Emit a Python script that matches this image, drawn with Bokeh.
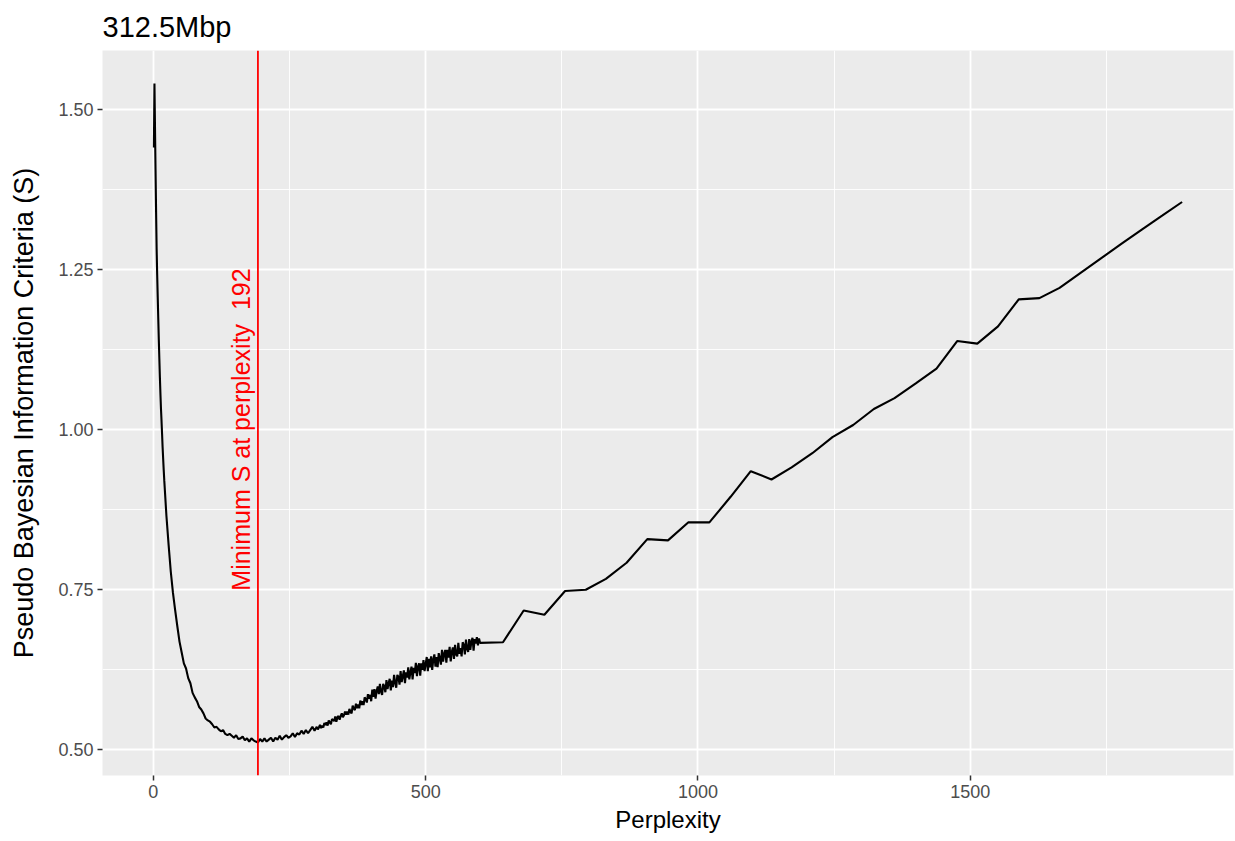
import math
from bokeh.plotting import figure
from bokeh.models import FixedTicker, NumeralTickFormatter, Span, Label, Range1d
from bokeh.embed import file_html
from bokeh.resources import INLINE

title_text = "312.5Mbp"
x_label = "Perplexity"
y_label = "Pseudo Bayesian Information Criteria (S)"
min_perplexity = 192
annot_text = "Minimum S at perplexity \u00a0192"

x_ticks = [0, 500, 1000, 1500]
x_minor = [250, 750, 1250, 1750]
y_ticks = [0.5, 0.75, 1.0, 1.25, 1.5]
y_minor = [0.625, 0.875, 1.125, 1.375]

# early steep part (perplexity 1..19)
perp_head = [1, 2, 3, 4, 5, 6, 7, 8, 9, 10, 11, 12, 13, 14, 15, 16, 17, 18, 19]
s_head = [1.440, 1.540, 1.470, 1.405, 1.340, 1.282, 1.242, 1.207, 1.173, 1.140,
          1.110, 1.081, 1.055, 1.032, 1.013, 0.993, 0.972, 0.954, 0.937]

# valley (perplexity 20..296, read every 4)
perp_mid = list(range(20, 300, 4))
s_mid = [
    0.921, 0.865, 0.820, 0.778, 0.745, 0.718, 0.693, 0.669, 0.652, 0.635,
    0.627, 0.612, 0.604, 0.589, 0.582, 0.576, 0.567, 0.563, 0.557, 0.549,
    0.546, 0.544, 0.540, 0.535, 0.536, 0.532, 0.529, 0.531, 0.525, 0.523,
    0.525, 0.522, 0.519, 0.523, 0.517, 0.518, 0.521, 0.515, 0.518, 0.513,
    0.518, 0.515, 0.513, 0.5115, 0.517, 0.513, 0.518, 0.513, 0.516, 0.519,
    0.513, 0.519, 0.516, 0.522, 0.516, 0.520, 0.523, 0.519, 0.521, 0.526,
    0.520, 0.526, 0.524, 0.530, 0.525, 0.531, 0.526, 0.531, 0.536, 0.530,
]

# noisy rising part (perplexity 300..600, read every 2)
perp_noisy = list(range(300, 602, 2))
s_noisy = [
    0.536, 0.532, 0.535, 0.539, 0.534, 0.538, 0.535, 0.542, 0.539, 0.543,
    0.538, 0.546, 0.543, 0.540, 0.548, 0.547, 0.545, 0.552, 0.544, 0.551,
    0.553, 0.547, 0.553, 0.557, 0.551, 0.554, 0.560, 0.555, 0.560, 0.555,
    0.564, 0.559, 0.557, 0.569, 0.565, 0.562, 0.572, 0.565, 0.571, 0.565,
    0.577, 0.570, 0.576, 0.570, 0.582, 0.579, 0.574, 0.587, 0.580, 0.586,
    0.576, 0.594, 0.583, 0.595, 0.580, 0.592, 0.599, 0.587, 0.603, 0.591,
    0.586, 0.603, 0.599, 0.590, 0.609, 0.595, 0.604, 0.611, 0.593, 0.608,
    0.598, 0.617, 0.605, 0.597, 0.617, 0.614, 0.602, 0.623, 0.606, 0.615,
    0.624, 0.604, 0.621, 0.613, 0.629, 0.610, 0.621, 0.630, 0.610, 0.628,
    0.620, 0.636, 0.615, 0.630, 0.635, 0.616, 0.635, 0.625, 0.640, 0.623,
    0.634, 0.645, 0.623, 0.642, 0.629, 0.646, 0.625, 0.641, 0.649, 0.630,
    0.645, 0.629, 0.651, 0.643, 0.633, 0.656, 0.638, 0.650, 0.656, 0.636,
    0.656, 0.644, 0.661, 0.638, 0.653, 0.660, 0.642, 0.664, 0.649, 0.646,
    0.667, 0.650, 0.659, 0.646, 0.668, 0.664, 0.649, 0.672, 0.658, 0.653,
    0.673, 0.656, 0.669, 0.675, 0.655, 0.673, 0.666, 0.676, 0.663, 0.674,
    0.667,
]

# sparse part
perp_tail = [642, 680, 718, 756, 794, 831, 869, 907, 945, 982, 1021, 1060, 1097,
             1135, 1172, 1210, 1247, 1285, 1323, 1361, 1400, 1438, 1476, 1513,
             1551, 1589, 1627, 1664, 1702, 1740, 1778, 1815, 1853, 1889]
s_tail = [0.668, 0.7175, 0.711, 0.748, 0.750, 0.767, 0.792, 0.829, 0.827, 0.855,
          0.855, 0.895, 0.935, 0.922, 0.941, 0.963, 0.988, 1.007, 1.032, 1.049,
          1.072, 1.095, 1.138, 1.134, 1.161, 1.203, 1.205, 1.221, 1.244, 1.267,
          1.290, 1.312, 1.334, 1.355]

perp = perp_head + perp_mid + perp_noisy + perp_tail
s_vals = s_head + s_mid + s_noisy + s_tail

FONT = "Liberation Sans"

xmin, xmax = min(perp), max(perp)
ymin, ymax = min(s_vals), max(s_vals)
xpad = (xmax - xmin) * 0.05
ypad = (ymax - ymin) * 0.05
x0, x1 = xmin - xpad, xmax + xpad
y0, y1 = ymin - ypad, ymax + ypad

p = figure(width=1235, height=841, output_backend="svg", toolbar_location=None,
           x_range=Range1d(x0, x1), y_range=Range1d(y0, y1),
           min_border_left=102, min_border_right=2, min_border_top=50,
           min_border_bottom=66)

p.background_fill_color = "#EBEBEB"
p.border_fill_color = "white"
p.outline_line_color = None

p.title.text = title_text
p.title.text_font = FONT
p.title.text_font_size = "29px"
p.title.text_font_style = "normal"
p.title.text_color = "black"
p.title.align = "left"
p.title.standoff = 16

p.xaxis.ticker = FixedTicker(ticks=x_ticks, minor_ticks=x_minor)
p.yaxis.ticker = FixedTicker(ticks=y_ticks, minor_ticks=y_minor)
p.yaxis.formatter = NumeralTickFormatter(format="0.00")

for ax in (p.xaxis, p.yaxis):
    ax.axis_line_color = None
    ax.major_tick_in = 0
    ax.major_tick_out = 5
    ax.major_tick_line_color = "#333333"
    ax.major_tick_line_width = 1.5
    ax.minor_tick_line_color = None
    ax.major_label_text_font = FONT
    ax.major_label_text_font_size = "18px"
    ax.major_label_text_color = "#4D4D4D"
    ax.axis_label_text_font = FONT
    ax.axis_label_text_font_style = "normal"
    ax.axis_label_text_color = "black"
    ax.major_label_standoff = 4

p.xaxis.axis_label_text_font_size = "24px"
p.yaxis.axis_label_text_font_size = "27px"
p.xaxis.axis_label_standoff = 5
p.yaxis.axis_label_standoff = 16
p.xaxis.axis_label = x_label
p.yaxis.axis_label = y_label

for g in (p.xgrid, p.ygrid):
    g.grid_line_color = "white"
    g.grid_line_width = 1.8
    g.minor_grid_line_color = "white"
    g.minor_grid_line_width = 0.9

p.line(perp, s_vals, line_color="black", line_width=2.1)

p.add_layout(Span(location=min_perplexity, dimension="height",
                  line_color="#FF0000", line_width=1.8))
p.add_layout(Label(x=min_perplexity, y=1.0, text=annot_text, angle=math.pi / 2,
                   text_align="center", text_baseline="bottom",
                   text_color="#FF0000", text_font=FONT, text_font_size="25px",
                   x_offset=-3))

open("out.html", "w").write(file_html(p, INLINE))
